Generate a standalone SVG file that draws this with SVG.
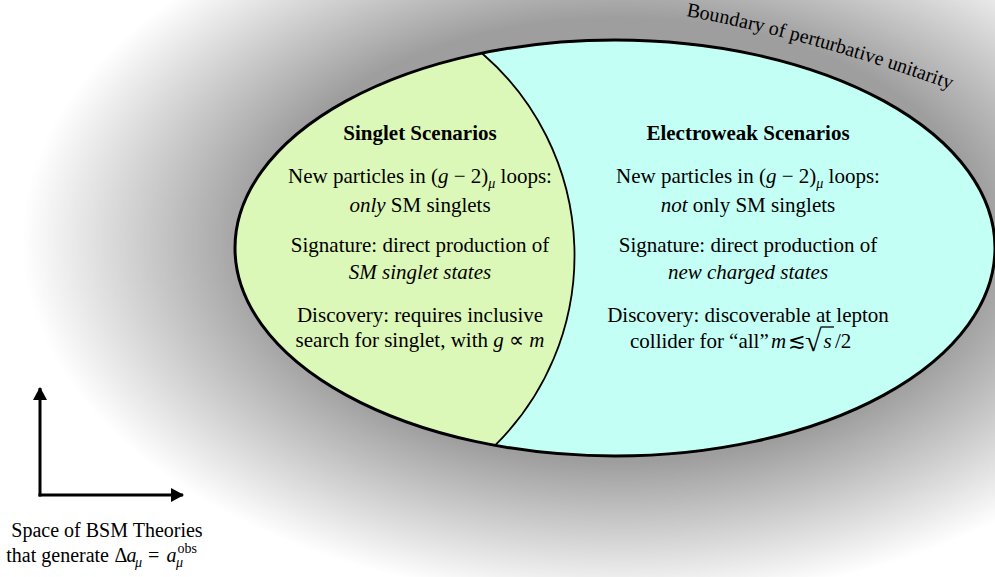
<svg xmlns="http://www.w3.org/2000/svg" width="995" height="577" viewBox="0 0 995 577">
<defs>
<radialGradient id="bg" gradientUnits="userSpaceOnUse" cx="0" cy="0" r="1" gradientTransform="translate(620 240) scale(610 370)">
<stop offset="0.6" stop-color="#9e9e9e"/>
<stop offset="0.98" stop-color="#ffffff"/>
</radialGradient>
<marker id="arr" viewBox="0 0 13 14" refX="12" refY="7" markerWidth="13" markerHeight="14" markerUnits="userSpaceOnUse" orient="auto">
<path d="M0 0 L13 7 L0 14 Z" fill="#000"/>
</marker>
<path id="bpath" d="M686 16 Q811 39 952 90" fill="none" stroke="none"/>
<style>
text{font-family:"Liberation Serif","Times New Roman",serif;fill:#000}
.t{font-size:21px;font-weight:bold;text-anchor:middle}
.b{font-size:21px;text-anchor:middle}
.r{font-size:21px}
.i{font-style:italic}
.s{font-size:14px}
.lab{font-size:20px;text-anchor:middle}
.l2{font-size:20px}
.bd{font-size:20px}
</style>
</defs>
<rect x="0" y="0" width="995" height="577" fill="url(#bg)"/>
<text class="bd"><textPath href="#bpath">Boundary of perturbative unitarity</textPath></text>

<g id="electroweak">
<ellipse cx="615" cy="248" rx="380" ry="208" fill="#c4fff6"/>
</g>
<g id="singlet">
<path d="M482 53.2 A380 208 0 0 0 495 445.4 A267 267 0 0 0 482 53.2 Z" fill="#dcf8b8"/>
</g>
<g id="connectors">
<path d="M482 53.2 A267 267 0 0 1 495 445.4" fill="none" stroke="#000" stroke-width="1.8"/>
<ellipse cx="615" cy="248" rx="380" ry="208" fill="none" stroke="#000" stroke-width="3"/>
<path d="M40 496.5 L40 388" fill="none" stroke="#000" stroke-width="3" marker-end="url(#arr)"/>
<path d="M38.5 495 L183 495" fill="none" stroke="#000" stroke-width="3" marker-end="url(#arr)"/>
</g>

<g id="singlet-text">
<text class="t" x="420" y="140">Singlet Scenarios</text>
<text class="b" x="420" y="182.5">New particles in (<tspan class="i">g</tspan> − 2)<tspan class="i s" dy="5">μ</tspan><tspan dy="-5"> loops:</tspan></text>
<text class="b" x="420" y="212"><tspan class="i">only</tspan> SM singlets</text>
<text class="b" x="420" y="252">Signature: direct production of</text>
<text class="b i" x="420" y="278.5">SM singlet states</text>
<text class="b" x="420" y="321.5">Discovery: requires inclusive</text>
<text class="b" x="420" y="347">search for singlet, with <tspan class="i">g</tspan> ∝ <tspan class="i">m</tspan></text>
</g>

<g id="electroweak-text">
<text class="t" x="748" y="140">Electroweak Scenarios</text>
<text class="b" x="748" y="182.5">New particles in (<tspan class="i">g</tspan> − 2)<tspan class="i s" dy="5">μ</tspan><tspan dy="-5"> loops:</tspan></text>
<text class="b" x="748" y="212"><tspan class="i">not</tspan> only SM singlets</text>
<text class="b" x="748" y="252">Signature: direct production of</text>
<text class="b i" x="748" y="278.5">new charged states</text>
<text class="b" x="748" y="321.5">Discovery: discoverable at lepton</text>
<text class="r" y="347.5"><tspan x="630">collider for “all”</tspan><tspan class="i" x="771">m</tspan><tspan x="788">≲</tspan><tspan x="805" font-size="30" dy="3">√</tspan><tspan class="i" x="823.5" dy="-3">s</tspan><tspan x="835">/2</tspan></text>
<line x1="820.5" y1="327" x2="834" y2="327" stroke="#000" stroke-width="1.3"/>
</g>

<g id="axes-label">
<text class="lab" x="107" y="536.7">Space of BSM Theories</text>
<text class="l2" y="561.7"><tspan text-anchor="end" x="109">that generate</tspan></text>
<text class="l2" y="561.7"><tspan x="114.5">Δ</tspan><tspan class="i" x="126.5">a</tspan><tspan class="i s" x="135" dy="5">μ</tspan><tspan x="148" dy="-5">=</tspan><tspan class="i" x="166.5">a</tspan><tspan class="i s" x="176" dy="5">μ</tspan><tspan class="s" x="177.5" dy="-13.5">obs</tspan></text>
</g>
</svg>
